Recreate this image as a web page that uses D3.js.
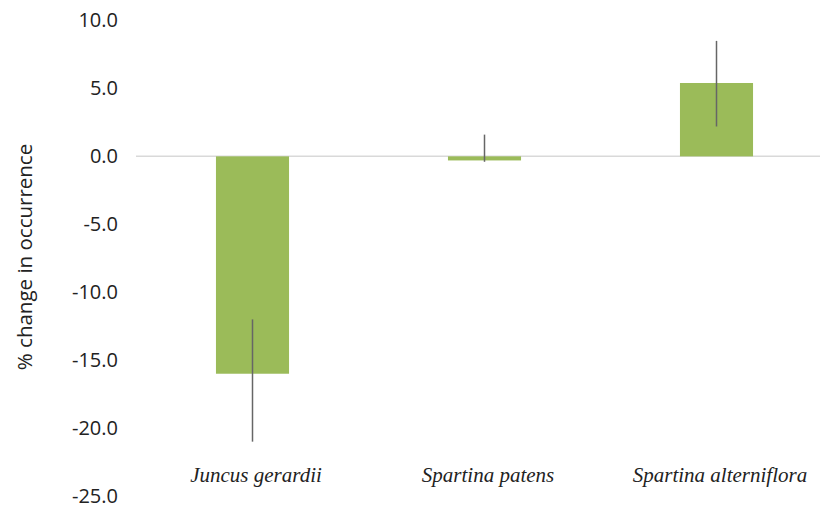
<!DOCTYPE html>
<html>
<head>
<meta charset="utf-8">
<script src="https://cdn.jsdelivr.net/npm/d3@7"></script>
<style>
  html, body { margin: 0; padding: 0; background: #ffffff; }
  svg { display: block; }
</style>
</head>
<body>
<svg id="chart" width="820" height="508"></svg>
<script>
const categories = ["Juncus gerardii", "Spartina patens", "Spartina alterniflora"];
const values = [-16.0, -0.3, 5.4];
const errHigh = [-12.0, 1.6, 8.5];
const errLow = [-21.0, -0.4, 2.2];
const yTicks = [10, 5, 0, -5, -10, -15, -20, -25];
const yTitle = "% change in occurrence";

const svg = d3.select("#chart");
const W = 820;

const y = d3.scaleLinear().domain([-25, 10]).range([496, 20.5]);
const x = d3.scalePoint().domain(categories).range([136.5, 832.5]).padding(0.5);
const barW = x.step() * 0.315;

// zero line
svg.append("line")
  .attr("x1", 136).attr("x2", W)
  .attr("y1", y(0)).attr("y2", y(0))
  .attr("stroke", "#d9d9d9").attr("stroke-width", 1.5);

// bars
svg.selectAll("rect.bar").data(categories).join("rect")
  .attr("class", "bar")
  .attr("x", d => x(d) - barW / 2)
  .attr("width", barW)
  .attr("y", (d, i) => y(Math.max(0, values[i])))
  .attr("height", (d, i) => Math.abs(y(values[i]) - y(0)))
  .attr("fill", "#9bbb59");

// error bars
svg.selectAll("line.err").data(categories).join("line")
  .attr("class", "err")
  .attr("x1", d => x(d)).attr("x2", d => x(d))
  .attr("y1", (d, i) => y(errHigh[i]))
  .attr("y2", (d, i) => y(errLow[i]))
  .attr("stroke", "#666666").attr("stroke-width", 1.5);

// y axis
const yAxis = d3.axisLeft(y).tickValues(yTicks).tickFormat(d => d3.format(".1f")(d).replace("−", "-")).tickSize(0).tickPadding(0);
const gy = svg.append("g").attr("transform", "translate(118,0)").call(yAxis);
gy.select(".domain").remove();
gy.selectAll("text")
  .attr("font-family", "'Open Sans', sans-serif")
  .attr("font-size", 20)
  .attr("dy", "0.3em")
  .attr("fill", "#222222");

// x labels
const xAxis = d3.axisBottom(x).tickSize(0).tickPadding(0);
const gx = svg.append("g").attr("transform", "translate(3,467)").call(xAxis);
gx.select(".domain").remove();
gx.selectAll("text")
  .attr("font-family", "'Liberation Serif', serif")
  .attr("font-style", "italic")
  .attr("font-size", 21)
  .attr("fill", "#222222");

// y title
svg.append("text")
  .attr("transform", "translate(32,257) rotate(-90)")
  .attr("text-anchor", "middle")
  .attr("font-family", "'Open Sans', sans-serif")
  .attr("font-size", 20.5)
  .attr("fill", "#222222")
  .text(yTitle);
</script>
</body>
</html>
